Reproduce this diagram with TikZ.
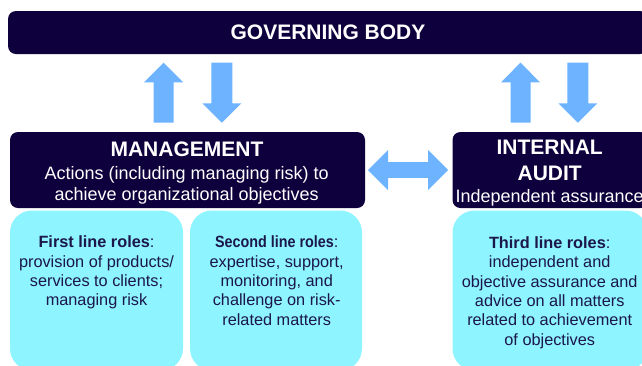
\documentclass[tikz,border=0pt]{standalone}
\usepackage{fontspec}
\usepackage{graphicx}
\setmainfont{Liberation Sans}
\usetikzlibrary{calc}
\definecolor{navy}{HTML}{0E003C}
\definecolor{cyanbox}{HTML}{8EF4FF}
\definecolor{arrowblue}{HTML}{6DB3FF}
\definecolor{boxtext}{HTML}{1B1748}
\begin{document}
\begin{tikzpicture}[x=1pt,y=-1pt,
  navybox/.style={fill=navy, rounded corners=8pt, inner sep=0pt},
  cyanrole/.style={fill=cyanbox, rounded corners=22pt, inner sep=0pt},
  blockarrow/.style={fill=arrowblue},
  titletext/.style={text=white, font=\fontsize{21}{21}\selectfont\bfseries, anchor=base, inner sep=0pt},
  subtext/.style={text=white, font=\fontsize{18}{18}\selectfont, anchor=base, inner sep=0pt},
  roletext/.style={text=boxtext, font=\fontsize{16.3}{19.4}\selectfont, align=center, anchor=base, inner sep=0pt}]
\useasboundingbox (0,0) rectangle (642,365);
\clip (0,0) rectangle (642,365);
\fill[white] (0,0) rectangle (642,365);

% boxes
\node[navybox, minimum width=640pt, minimum height=43pt] (gov) at (328,32.5) {};
\node[navybox, minimum width=355pt, minimum height=76pt] (mgmt) at (187.5,170) {};
\node[navybox, minimum width=196pt, minimum height=76pt] (audit) at (550.5,170) {};
\node[cyanrole, minimum width=173pt, minimum height=160pt] (first) at (96.5,290.5) {};
\node[cyanrole, minimum width=172pt, minimum height=160pt] (second) at (276,290.5) {};
\node[cyanrole, minimum width=195pt, minimum height=160pt] (third) at (550,290.5) {};

% texts
\node[titletext] (govt) at (328,39.5) {GOVERNING BODY};
\node[titletext] (mgmtt) at (187,156) {MANAGEMENT};
\node[subtext] (mgmt1) at (186.7,179) {Actions (including managing risk) to};
\node[subtext] (mgmt2) at (186.7,200) {achieve organizational objectives};
\node[titletext] (audt1) at (549.7,154.3) {INTERNAL};
\node[titletext] (audt2) at (549.7,180) {AUDIT};
\node[subtext] (audt3) at (549.7,202.5) {Independent assurance};

% multi-line nodes: base anchor sits on the last line
\node[roletext] (firstt) at (96.5,305.9) {{\bfseries First line roles}:\\provision of products/\\services to clients;\\managing risk};
\node[roletext] (secondt) at (276.7,325.3) {\scalebox{0.88}[1]{\bfseries Second line roles}:\\expertise, support,\\monitoring, and\\challenge on risk-\\related matters};
\node[roletext] (thirdt) at (549.7,345.3) {{\bfseries Third line roles}:\\independent and\\objective assurance and\\advice on all matters\\related to achievement\\of objectives};

% block arrows between governing body and the boxes below
\coordinate (u1) at (163.6,62.7);
\coordinate (d1) at (221.9,62.7);
\coordinate (u2) at (520.5,62.7);
\coordinate (d2) at (577.8,62.7);
\foreach \c in {u1,u2}{
  \fill[blockarrow] (\c) -- ++(19.5,19.6) -- ++(-9.5,0) -- ++(0,40.4) -- ++(-20,0) -- ++(0,-40.4) -- ++(-9.5,0) -- cycle;
}
\foreach \c in {d1,d2}{
  \fill[blockarrow] ($(\c)+(-10.5,0)$) -- ++(21,0) -- ++(0,40.6) -- ++(9,0) -- ++(-19.5,19.4) -- ++(-19.5,-19.4) -- ++(9,0) -- cycle;
}
% horizontal double arrow between management and internal audit
\coordinate (hl) at (368,170);
\fill[blockarrow] (hl) -- ++(20,-20) -- ++(0,12.2) -- ++(40,0) -- ++(0,-12.2) -- ++(20,20) -- ++(-20,20) -- ++(0,-12.2) -- ++(-40,0) -- ++(0,12.2) -- cycle;
\end{tikzpicture}
\end{document}
